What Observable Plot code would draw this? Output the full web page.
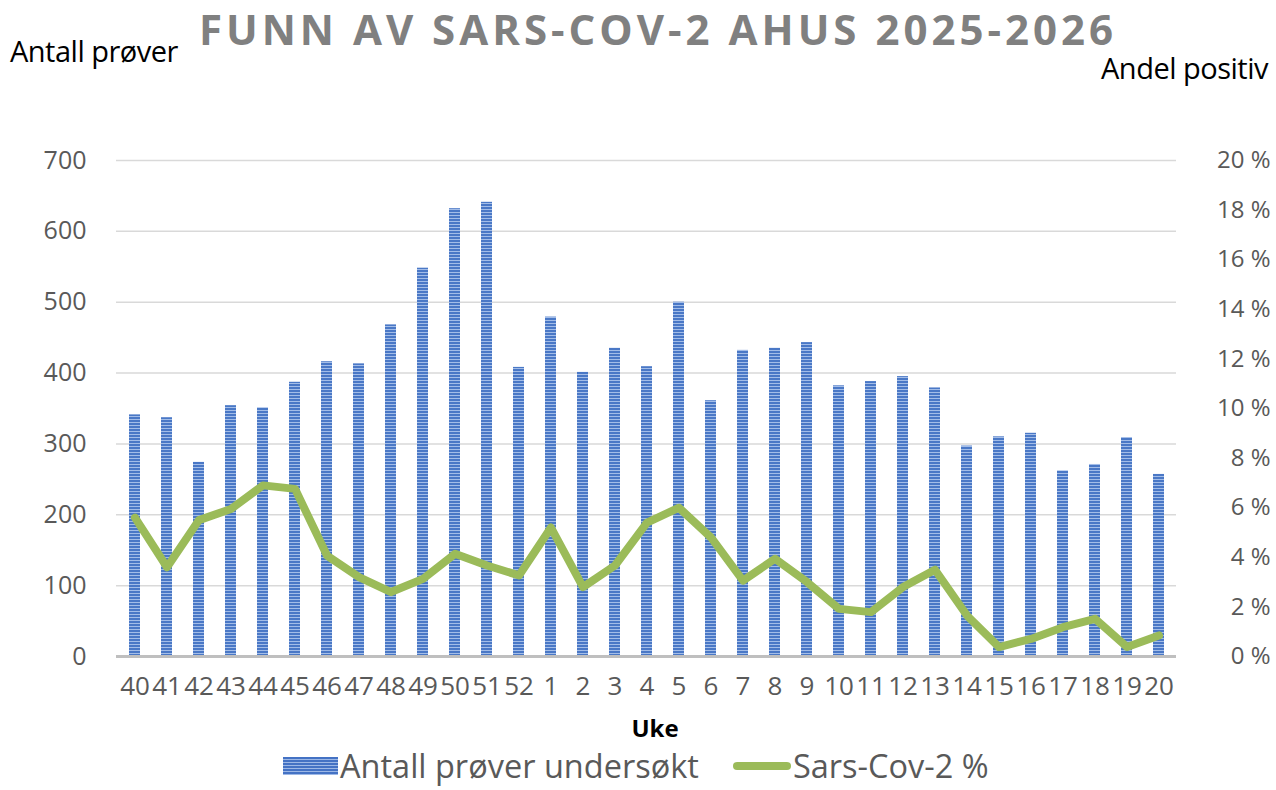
<!DOCTYPE html>
<html>
<head>
<meta charset="utf-8">
<script src="https://cdn.jsdelivr.net/npm/d3@7"></script>
<script src="https://cdn.jsdelivr.net/npm/@observablehq/plot@0.6"></script>
<style>
  html, body { margin: 0; padding: 0; background: #fff; overflow: hidden; }
  #wrap { position: relative; width: 1276px; height: 790px; font-family: "Open Sans", sans-serif; overflow: hidden; }
  #wrap svg { position: absolute; left: 0; top: 0; overflow: visible; }
  .abs { position: absolute; white-space: nowrap; line-height: 1; }
  #title { left: 0; width: 1316px; text-align: center; top: 8px; font-size: 42px; font-weight: 700; color: #808080; letter-spacing: 4px; }
  #ylab { left: 10px; top: 36px; font-size: 29px; color: #000; letter-spacing: -0.5px; }
  #y2lab { right: 8px; top: 53px; font-size: 29px; color: #000; letter-spacing: -0.5px; }
  #xlab { left: 0; width: 1310px; text-align: center; top: 716px; font-size: 24px; font-weight: 700; color: #000; }
  #legend { left: 283px; top: 750px; font-size: 32.5px; color: #595959; display: flex; align-items: center; }
  .sw-bar { width: 55px; height: 18px; background: repeating-linear-gradient(to bottom, #4472C4 0px, #4472C4 2px, #9DB8E6 2px, #9DB8E6 3px); margin-right: 2px; }
  .sw-line { width: 58px; height: 8px; border-radius: 4px; background: #9BBB59; margin-left: 34px; margin-right: 2px; }
</style>
</head>
<body>
<div id="wrap">
  <div id="title" class="abs">FUNN AV SARS-COV-2 AHUS 2025-2026</div>
  <div id="ylab" class="abs">Antall prøver</div>
  <div id="y2lab" class="abs">Andel positiv</div>
  <div id="xlab" class="abs">Uke</div>
  <div id="legend" class="abs"><div class="sw-bar"></div><span>Antall prøver undersøkt</span><div class="sw-line"></div><span>Sars-Cov-2 %</span></div>
</div>
<script>
const weeks = ["40","41","42","43","44","45","46","47","48","49","50","51","52","1","2","3","4","5","6","7","8","9","10","11","12","13","14","15","16","17","18","19","20"];
const samples = [341,337,274,354,351,387,416,413,468,548,632,641,408,479,401,435,409,500,361,432,435,443,382,388,395,379,297,310,315,262,271,309,257];
const positivePct = [5.6,3.6,5.5,5.95,6.9,6.76,4.07,3.2,2.6,3.13,4.14,3.67,3.27,5.2,2.8,3.67,5.4,6.0,4.8,3.06,3.94,3.0,1.92,1.79,2.8,3.5,1.65,0.38,0.71,1.18,1.52,0.38,0.85];
const leftTicks = [0,100,200,300,400,500,600,700];
const rightTicksPct = [0,2,4,6,8,10,12,14,16,18,20];

const scaleFactor = 700 / 20; // 20 % on right axis aligns with 700 on left
const bars = weeks.map((w, i) => ({week: w, n: samples[i]}));
const pts = weeks.map((w, i) => ({week: w, v: positivePct[i] * scaleFactor}));
const rightLabels = rightTicksPct.map(p => ({v: p * scaleFactor, label: p + " %"}));

const chart = Plot.plot({
  width: 1276,
  height: 790,
  marginTop: 160,
  marginBottom: 134,
  marginLeft: 116,
  marginRight: 100,
  style: {fontFamily: "'Open Sans', sans-serif", color: "#595959", background: "transparent"},
  x: {domain: weeks, paddingInner: 0.67, paddingOuter: 0.335, label: null},
  y: {domain: [0, 700], label: null},
  marks: [
    Plot.gridY(leftTicks.filter(d => d > 0), {stroke: "#d9d9d9", strokeOpacity: 1, strokeWidth: 1.5}),
    Plot.barY(bars, {x: "week", y: "n", fill: "#4472C4"}),
    Plot.ruleY([0], {stroke: "#bfbfbf", strokeWidth: 3}),
    Plot.line(pts, {x: "week", y: "v", stroke: "#9BBB59", strokeWidth: 8, strokeLinejoin: "round", strokeLinecap: "round"}),
    Plot.axisY(leftTicks, {anchor: "left", tickSize: 0, tickPadding: 30, fontSize: 25, label: null}),
    Plot.text(rightLabels, {y: "v", text: "label", frameAnchor: "right", textAnchor: "end", dx: 94, fontSize: 24, fill: "#595959"}),
    Plot.axisX({anchor: "bottom", tickSize: 0, tickPadding: 20, fontSize: 26, label: null})
  ]
});

document.getElementById("wrap").appendChild(chart);

// striped fill for bars
const svg = d3.select(chart);
const defs = svg.insert("defs", ":first-child");
const pat = defs.append("pattern").attr("id", "stripes").attr("patternUnits", "userSpaceOnUse").attr("width", 6).attr("height", 3);
pat.append("rect").attr("width", 6).attr("height", 3).attr("fill", "#4A78C6");
pat.append("rect").attr("y", 2).attr("width", 6).attr("height", 1).attr("fill", "#A3BDE8");
svg.selectAll('g[aria-label="bar"] rect').attr("fill", "url(#stripes)");
</script>
</body>
</html>
